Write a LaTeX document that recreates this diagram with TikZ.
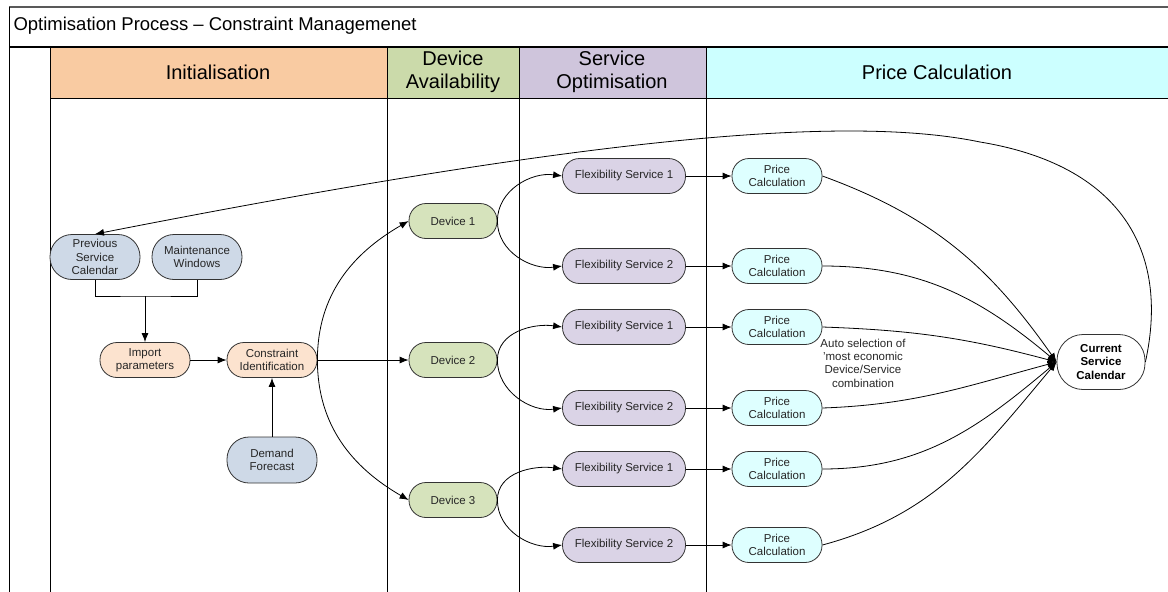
\documentclass[tikz,border=0pt]{standalone}
\usepackage{fontspec}
\setmainfont{Liberation Sans}
\usetikzlibrary{arrows.meta}

\definecolor{hdrinit}{HTML}{F9CBA2}
\definecolor{hdrdev}{HTML}{CBDAAA}
\definecolor{hdrserv}{HTML}{CFC5DC}
\definecolor{hdrprice}{HTML}{CCFFFF}
\definecolor{fillin}{HTML}{CED9E7}
\definecolor{fillinit}{HTML}{FCE3CF}
\definecolor{filldev}{HTML}{D6E3BC}
\definecolor{fillserv}{HTML}{DAD3E6}
\definecolor{fillprice}{HTML}{DEFFFF}

\begin{document}
\begin{tikzpicture}[x=1pt,y=-1pt,>={Latex[length=9pt,width=7pt]},
  every node/.style={font=\fontsize{11.5}{13.3}\selectfont,text=black!85},
  box/.style={draw=black!80,line width=0.8pt,rounded corners=17pt,align=center,
    inner sep=2pt,minimum height=35pt},
  inbox/.style={box,fill=fillin,minimum width=90pt,minimum height=45pt,rounded corners=22pt},
  initbox/.style={box,fill=fillinit,minimum width=90pt},
  devbox/.style={box,fill=filldev,minimum width=88pt},
  servbox/.style={box,fill=fillserv,minimum width=123pt},
  pricebox/.style={box,fill=fillprice,minimum width=90pt},
  calbox/.style={box,fill=white,minimum width=88pt,minimum height=55pt,rounded corners=26pt,
    font=\fontsize{11.5}{13.3}\selectfont\bfseries,text=black},
  header/.style={font=\fontsize{20}{23}\selectfont,text=black,align=center}]
\useasboundingbox (0,0) rectangle (1168,592);

% lanes
\fill[hdrinit]  (50,47) rectangle (387,98);
\fill[hdrdev]   (387,47) rectangle (519,98);
\fill[hdrserv]  (519,47) rectangle (706,98);
\fill[hdrprice] (706,47) rectangle (1168,98);
\draw[line width=1.3pt,black!65] (9,7) -- (1168,7);
\draw[line width=1.3pt] (9,47) -- (1168,47);
\draw[line width=0.8pt] (50,98) -- (1168,98);
\draw[line width=1pt] (9,7) -- (9,592);
\foreach \x in {50,387,519,706}
  \draw[line width=1pt] (\x,47) -- (\x,592);

\node(title) at (10,26)[anchor=west,font=\fontsize{18.5}{22}\selectfont,text=black]
  {Optimisation Process – Constraint Managemenet};
\node(hinit)  at (218,72)[header] {Initialisation};
\node(hdev)   at (453,72)[header] {Device\\Availability};
\node(hserv)  at (612,72)[header] {Service\\Optimisation};
\node(hprice) at (937,72)[header] {Price Calculation};

% initialisation
\node(prev)  at (95,257)[inbox]   {Previous\\Service\\Calendar};
\node(maint) at (197,257)[inbox]  {Maintenance\\Windows};
\node(imp)   at (145,360)[initbox] {Import\\parameters};
\node(cons)  at (272,360)[initbox] {Constraint\\Identification};
\node(dem)   at (272,460)[inbox,minimum height=46pt] {Demand\\Forecast};
\coordinate(join) at (145,296);

% devices
\node(dev1) at (453,221)[devbox] {Device 1};
\node(dev2) at (453,360)[devbox] {Device 2};
\node(dev3) at (453,500)[devbox] {Device 3};

% services
\node(fs11) at (624,176)[servbox] {Flexibility Service 1};
\node(fs12) at (624,266)[servbox] {Flexibility Service 2};
\node(fs21) at (624,327)[servbox] {Flexibility Service 1};
\node(fs22) at (624,408)[servbox] {Flexibility Service 2};
\node(fs31) at (624,469)[servbox] {Flexibility Service 1};
\node(fs32) at (624,545)[servbox] {Flexibility Service 2};

% prices
\node(pc11) at (777,176)[pricebox] {Price\\Calculation};
\node(pc12) at (777,266)[pricebox] {Price\\Calculation};
\node(pc21) at (777,327)[pricebox] {Price\\Calculation};
\node(pc22) at (777,408)[pricebox] {Price\\Calculation};
\node(pc31) at (777,469)[pricebox] {Price\\Calculation};
\node(pc32) at (777,545)[pricebox] {Price\\Calculation};

\node(csc) at (1101,362)[calbox] {Current\\Service\\Calendar};
\node(autosel) at (863,363)[align=center] {Auto selection of\\'most economic\\Device/Service\\combination};

\draw[line width=0.8pt] (prev.south) |- (join) -| (maint.south);
\path[->,line width=0.8pt]
  (join)      edge                      (imp.north)
  (imp)       edge                      (cons)
  (dem)       edge                      (cons)
  (cons.east) edge [out=90,in=210]      (dev1.west)
  (cons)      edge                      (dev2)
  (cons.east) edge [out=-90,in=150]     (dev3.west)
  (dev1.east) edge [out=90,in=172]      (fs11.west)
  (dev1.east) edge [out=-90,in=188]     (fs12.west)
  (dev2.east) edge [out=90,in=172]      (fs21.west)
  (dev2.east) edge [out=-90,in=188]     (fs22.west)
  (dev3.east) edge [out=90,in=172]      (fs31.west)
  (dev3.east) edge [out=-90,in=188]     (fs32.west)
  (fs11)      edge                      (pc11)
  (fs12)      edge                      (pc12)
  (fs21)      edge                      (pc21)
  (fs22)      edge                      (pc22)
  (fs31)      edge                      (pc31)
  (fs32)      edge                      (pc32)
  (pc11.east) edge [out=-20,in=125]     (csc.west)
  (pc12.east) edge [out=0,in=140]       (csc.west)
  (pc21.east) edge [out=-2,in=165]      (csc.west)
  (pc22.east) edge [out=2,in=195]       (csc.west)
  (pc31.east) edge [out=0,in=220]       (csc.west)
  (pc32.east) edge [out=15,in=230]      (csc.west);
\draw[->,line width=0.8pt] (csc.east) .. controls (1170,250) and (1120,165) .. (980,142)
  .. controls (850,115) and (600,135) .. (prev.north);
\end{tikzpicture}
\end{document}
